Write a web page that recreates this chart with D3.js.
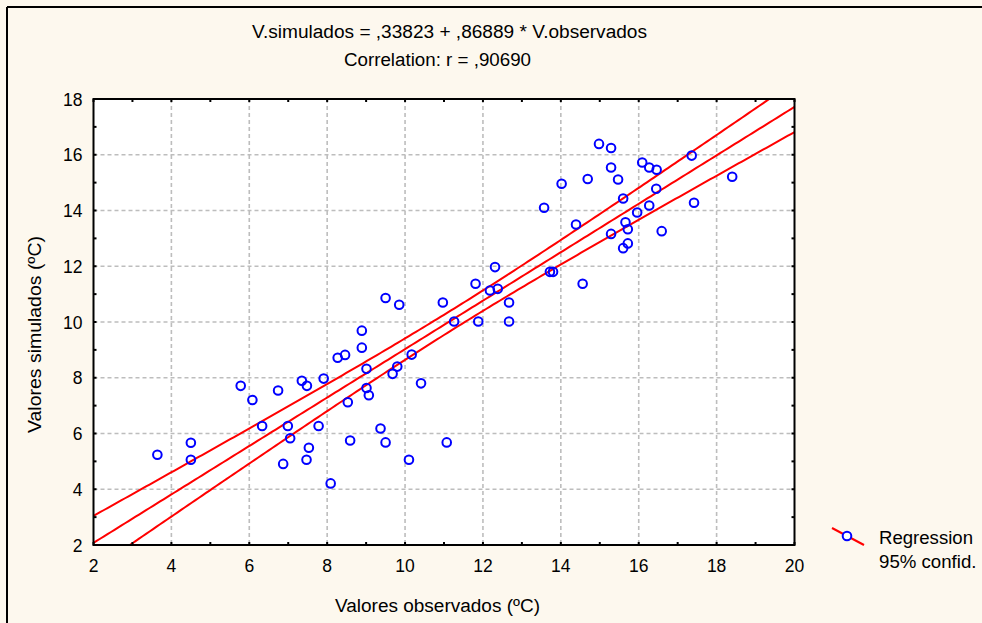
<!DOCTYPE html>
<html><head><meta charset="utf-8">
<script src="https://cdn.jsdelivr.net/npm/d3@7"></script>
<style>
html,body{margin:0;padding:0;background:#fdf8ee;}
svg{display:block;font-family:"Liberation Sans",Arial,sans-serif;}
</style></head><body>
<svg id="c" width="982" height="623"></svg>
<script>
// observed (x) values
const observed = [3.64,4.50,4.50,5.78,6.08,6.33,6.74,6.87,6.99,7.05,7.35,7.48,7.53,7.47,7.78,7.91,8.09,8.27,8.46,
  12.31,11.81,12.18,12.38,9.50,9.85,10.97,12.67,11.26,11.88,12.67,8.89,8.89,10.17,9.01,9.80,9.68,9.01,9.07,10.41,8.53,9.37,8.59,9.50,11.07,10.10,
  14.98,15.29,17.36,16.09,16.27,16.46,15.29,14.02,14.69,15.47,18.40,16.45,15.60,13.57,16.27,15.96,17.42,15.66,15.72,14.39,15.29,16.59,15.72,15.60,13.72,13.80,14.56];
// simulated (y) values
const simulated = [5.24,5.67,5.06,7.71,7.20,6.27,7.54,4.91,6.27,5.83,7.89,7.71,5.49,5.06,6.27,7.97,4.21,8.72,8.82,
  11.97,11.37,11.13,11.19,10.86,10.62,10.70,10.70,10.02,10.02,10.02,9.69,9.08,8.83,8.32,8.40,8.14,7.63,7.37,7.80,7.12,6.18,5.75,5.68,5.68,5.06,
  16.39,16.24,15.97,15.72,15.54,15.46,15.54,14.96,15.13,15.11,15.21,14.78,14.43,14.10,14.18,13.93,14.28,13.58,13.33,13.50,13.16,13.26,12.82,12.65,11.80,11.80,11.37];
const intercept = 0.33823, slope = 0.86889;
const titleLines = ["V.simulados = ,33823 + ,86889 * V.observados", "Correlation: r = ,90690"];
const xTicks = [2,4,6,8,10,12,14,16,18,20];
const yTicks = [2,4,6,8,10,12,14,16,18];
const xMinor = [3,5,7,9,11,13,15,17,19];
const yMinor = [3,5,7,9,11,13,15,17];
const legendLabels = ["Regression","95% confid."];
const xTitle = "Valores observados (ºC)", yTitle = "Valores simulados (ºC)";

const svg = d3.select("#c");
const L=93.5, R=794.5, T=99, B=545;
const x = d3.scaleLinear().domain([2,20]).range([L,R]);
const y = d3.scaleLinear().domain([2,18]).range([B,T]);

// outer frame lines
svg.append("line").attr("x1",7).attr("x2",7).attr("y1",7).attr("y2",623).attr("stroke","#000").attr("stroke-width",2);
svg.append("line").attr("x1",7).attr("x2",982).attr("y1",7).attr("y2",7).attr("stroke","#000").attr("stroke-width",2);

// plot bg
svg.append("rect").attr("x",L).attr("y",T).attr("width",R-L).attr("height",B-T).attr("fill","#fff");

// grid
const grid = svg.append("g").attr("stroke","#bdbdbd").attr("stroke-width",1.6).attr("stroke-dasharray","4,3");
xTicks.slice(1,-1).forEach(v=>grid.append("line").attr("x1",x(v)).attr("x2",x(v)).attr("y1",T).attr("y2",B));
yTicks.slice(1,-1).forEach(v=>grid.append("line").attr("y1",y(v)).attr("y2",y(v)).attr("x1",L).attr("x2",R));

svg.append("clipPath").attr("id","pc").append("rect").attr("x",L).attr("y",T).attr("width",R-L).attr("height",B-T);

// regression & 95% confidence band
const n = observed.length;
const mx = d3.mean(observed);
const sxx = d3.sum(observed, v=>(v-mx)*(v-mx));
const sse = d3.sum(observed.map((v,i)=>{const r=simulated[i]-(intercept+slope*v); return r*r;}));
const s = Math.sqrt(sse/(n-2));
const tval = 1.994;
const xs = d3.range(0,201).map(i=>2+i*18/200);
const lineGen = f => d3.line().x(d=>x(d)).y(d=>y(f(d)))(xs);
const fit = v=>intercept+slope*v;
const hw = v=>tval*s*Math.sqrt(1/n+(v-mx)*(v-mx)/sxx);
const lg = svg.append("g").attr("clip-path","url(#pc)").attr("fill","none").attr("stroke","#ff0000").attr("stroke-width",2);
lg.append("path").attr("d",lineGen(fit));
lg.append("path").attr("d",lineGen(v=>fit(v)+hw(v)));
lg.append("path").attr("d",lineGen(v=>fit(v)-hw(v)));

// points
svg.append("g").selectAll("circle").data(observed).join("circle")
  .attr("cx",d=>x(d)).attr("cy",(d,i)=>y(simulated[i])).attr("r",4.3)
  .attr("fill","none").attr("stroke","#0000ff").attr("stroke-width",2);

// frame
svg.append("rect").attr("x",L).attr("y",T).attr("width",R-L).attr("height",B-T).attr("fill","none").attr("stroke","#000").attr("stroke-width",2);

// ticks (inward) on all sides
const tk = svg.append("g").attr("stroke","#000").attr("stroke-width",2);
xTicks.concat(xMinor).forEach(v=>{
  tk.append("line").attr("x1",x(v)).attr("x2",x(v)).attr("y1",B).attr("y2",B-3);
  tk.append("line").attr("x1",x(v)).attr("x2",x(v)).attr("y1",T).attr("y2",T+3);
});
yTicks.concat(yMinor).forEach(v=>{
  tk.append("line").attr("y1",y(v)).attr("y2",y(v)).attr("x1",L).attr("x2",L+3);
  tk.append("line").attr("y1",y(v)).attr("y2",y(v)).attr("x1",R).attr("x2",R-3);
});

// tick labels
svg.append("g").selectAll("text").data(xTicks).join("text")
  .attr("x",d=>x(d)).attr("y",571.5).attr("text-anchor","middle").attr("font-size",17.5).attr("fill","#000").text(d=>d);
svg.append("g").selectAll("text").data(yTicks).join("text")
  .attr("x",82.5).attr("y",d=>y(d)+6.5).attr("text-anchor","end").attr("font-size",17.5).attr("fill","#000").text(d=>d);

// titles
function txt(t, xx, yy, len, anchor){
  return svg.append("text").attr("x",xx).attr("y",yy).attr("text-anchor",anchor||"start").attr("font-size",18)
    .attr("textLength",len).attr("lengthAdjust","spacingAndGlyphs").text(t);
}
txt(titleLines[0], 252, 37.5, 395);
txt(titleLines[1], 344, 65.5, 187);
txt(xTitle, 335, 612, 205);
svg.append("text").attr("transform","translate(41,433) rotate(-90)").attr("font-size",18)
  .attr("textLength",197).attr("lengthAdjust","spacingAndGlyphs").text(yTitle);

// legend
svg.append("line").attr("x1",832).attr("y1",528).attr("x2",864).attr("y2",545).attr("stroke","#ff0000").attr("stroke-width",2);
svg.append("circle").attr("cx",847).attr("cy",536).attr("r",4.3).attr("fill","#fff").attr("stroke","#0000ff").attr("stroke-width",2);
txt(legendLabels[0], 879, 544, 94);
txt(legendLabels[1], 879, 567.5, 97.5);
</script>
</body></html>
